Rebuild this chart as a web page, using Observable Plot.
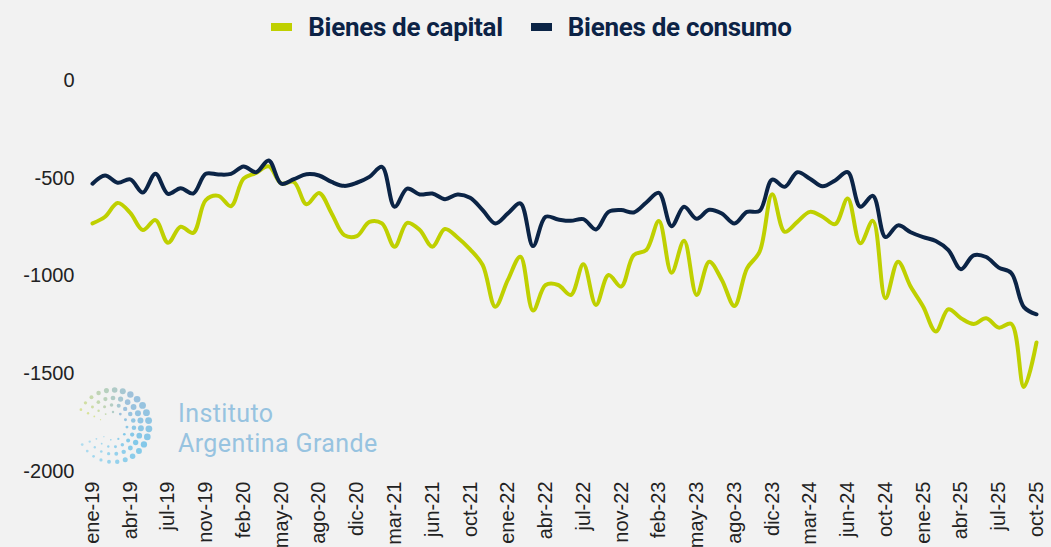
<!DOCTYPE html>
<html>
<head>
<meta charset="utf-8">
<script src="https://cdn.jsdelivr.net/npm/d3@7"></script>
<script src="https://cdn.jsdelivr.net/npm/@observablehq/plot@0.6"></script>
<style>
  html, body { margin: 0; padding: 0; background: #f2f2f2; }
  #wrap { position: relative; width: 1051px; height: 547px; background: #f2f2f2; overflow: hidden; }
  #legend { position: absolute; top: 12px; left: 6px; width: 1051px; display: flex; justify-content: center; align-items: center;
            font-family: Roboto, "Liberation Sans", sans-serif; font-weight: 700; font-size: 26px; color: #0c2346; letter-spacing: -0.3px; }
  .item { display: flex; align-items: center; margin: 0 14px; }
  .sw { width: 21px; height: 8px; margin-right: 16px; }
  #chart { position: absolute; top: 0; left: 0; }
  #logo { position: absolute; left: 0; top: 0; }
  .lt { position: absolute; left: 178px; font-family: Roboto, "Liberation Sans", sans-serif; font-size: 25px;
        line-height: 29px; color: #97c3e0; letter-spacing: 0.4px; white-space: nowrap; }
</style>
</head>
<body>
<div id="wrap">
  <div id="chart"></div>
  <svg id="logo" width="1051" height="547"></svg>
  <div class="lt" style="top:399px">Instituto</div>
  <div class="lt" style="top:429px">Argentina Grande</div>
  <div id="legend"></div>
</div>
<script>
// Tick labels (every third observation)
const tickLabels = ["ene-19","abr-19","jul-19","nov-19","feb-20","may-20","ago-20","dic-20","mar-21","jun-21","oct-21","ene-22","abr-22","jul-22","nov-22","feb-23","may-23","ago-23","dic-23","mar-24","jun-24","oct-24","ene-25","abr-25","jul-25","oct-25"];

// Series values
const bienesCapital = [-731,-697,-626,-677,-765,-714,-830,-748,-779,-612,-590,-643,-502,-473,-439,-527,-519,-633,-575,-680,-791,-796,-723,-731,-850,-728,-765,-850,-760,-803,-864,-944,-1157,-1020,-901,-1177,-1046,-1046,-1097,-940,-1148,-995,-1054,-893,-867,-719,-983,-820,-1097,-927,-1020,-1153,-961,-876,-582,-774,-723,-672,-697,-735,-604,-833,-718,-1114,-927,-1054,-1157,-1284,-1170,-1216,-1245,-1216,-1264,-1245,-1568,-1340];
const bienesConsumo = [-528,-486,-523,-506,-573,-477,-580,-551,-578,-477,-481,-478,-440,-469,-409,-528,-505,-480,-486,-519,-539,-523,-493,-442,-646,-553,-583,-578,-607,-583,-600,-663,-731,-680,-629,-847,-697,-711,-718,-709,-762,-672,-663,-675,-624,-575,-745,-646,-707,-661,-680,-731,-672,-667,-507,-544,-469,-502,-541,-511,-469,-646,-590,-801,-741,-776,-801,-821,-868,-965,-894,-903,-957,-985,-1159,-1196];

const seriesNames = ["Bienes de capital", "Bienes de consumo"];
const seriesColors = ["#bfd000", "#0b2446"];
const yTicks = [0, -500, -1000, -1500, -2000];

const data = [];
[bienesCapital, bienesConsumo].forEach((arr, s) => arr.forEach((v, i) => data.push({i, v, serie: seriesNames[s]})));
const tickIdx = tickLabels.map((_, k) => k * 3);

const chart = Plot.plot({
  width: 1051,
  height: 547,
  marginTop: 80,
  marginBottom: 76,
  marginLeft: 92,
  marginRight: 15,
  style: { background: "transparent", fontFamily: "'Liberation Sans', Arial, sans-serif", fontSize: "20px", color: "#222" },
  x: { domain: [0, bienesCapital.length - 1], ticks: tickIdx, tickFormat: i => tickLabels[i / 3], tickRotate: -90, tickSize: 0, tickPadding: 10, label: null },
  y: { domain: [-2000, 0], ticks: yTicks, tickSize: 0, tickPadding: 18, label: null, tickFormat: d => String(d) },
  color: { domain: seriesNames, range: seriesColors },
  marks: [
    Plot.lineY(data, { x: "i", y: "v", z: "serie", stroke: "serie", strokeWidth: 4, curve: "catmull-rom" })
  ]
});
document.getElementById("chart").appendChild(chart);

// Legend
const legend = document.getElementById("legend");
seriesNames.forEach((n, k) => {
  const it = document.createElement("div");
  it.className = "item";
  it.innerHTML = `<span class="sw" style="background:${seriesColors[k]}"></span><span>${n}</span>`;
  legend.appendChild(it);
});

// Decorative logo (dotted ring)
const logo = d3.select("#logo");
const cx = 113, cy = 426;
const rings = [{r: 14, n: 10, s: 1.3}, {r: 21, n: 16, s: 2.0}, {r: 28, n: 20, s: 2.6}, {r: 36, n: 24, s: 3.0}];
const col = d3.scaleLinear().domain([0, 0.3, 0.6, 1]).range(["#d3e08a", "#8fb8d8", "#6fc2e8", "#a9dbef"]);
rings.forEach(rg => {
  for (let k = 0; k < rg.n; k++) {
    const a = -Math.PI * 0.85 + (k / rg.n) * Math.PI * 1.75;
    const t = k / rg.n;
    const size = rg.s * (0.45 + 0.7 * Math.sin(Math.PI * Math.min(1, t * 1.15)));
    logo.append("circle")
      .attr("cx", cx + rg.r * Math.cos(a))
      .attr("cy", cy + rg.r * Math.sin(a))
      .attr("r", Math.max(0.6, size))
      .attr("fill", col(t))
      .attr("opacity", 0.85);
  }
});
</script>
</body>
</html>
